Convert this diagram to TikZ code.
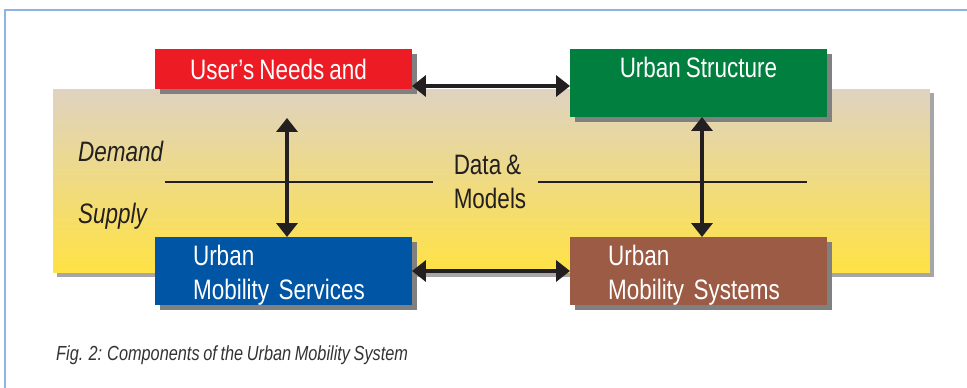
\documentclass[tikz,border=0pt]{standalone}
\usepackage{fontspec}
\setmainfont[FakeStretch=0.8, WordSpace=0.8]{Liberation Sans}
\usetikzlibrary{arrows.meta, shadows}

\definecolor{needsred}{HTML}{ED1C24}
\definecolor{structgreen}{HTML}{007F3F}
\definecolor{serviceblue}{HTML}{0055A5}
\definecolor{systembrown}{HTML}{9C5B44}
\definecolor{bandtop}{HTML}{DFD3C1}
\definecolor{bandmid}{HTML}{F6DD72}
\definecolor{bandbot}{HTML}{FFE244}
\definecolor{boxshadow}{HTML}{808080}
\definecolor{bandshadow}{HTML}{A6A6A6}
\definecolor{frameblue}{HTML}{8EB4E3}
\definecolor{inkgray}{HTML}{231F20}

\begin{document}
\begin{tikzpicture}[
    x=0.02cm,
    y=-0.02cm,
    >={Triangle[length=0.28cm, width=0.42cm]},
    every node/.style={font=\fontsize{16}{19.3}\selectfont, text=inkgray},
    box/.style={outer sep=0, minimum width=5.14cm, minimum height=1.36cm, text=white,
        drop shadow={shadow xshift=0.1cm, shadow yshift=-0.1cm, fill=boxshadow, opacity=1}},
    lbox/.style={box, align=left, text width=3.62cm, inner xsep=0.76cm, text depth=18pt},
    link/.style={<->, line width=0.08cm, draw=inkgray},
    side/.style={anchor=west, font=\fontsize{16}{19.3}\selectfont\itshape}
]
    \useasboundingbox (0, 0) rectangle (967, 388);

    % FRAME
    \draw[frameblue, line width=0.03cm] (5, 388) -- (5, 10) -- (967, 10);

    % DEMAND / SUPPLY BAND
    \node (band) at (491.5, 181) [outer sep=0, minimum width=17.54cm, minimum height=3.68cm,
        top color=bandtop, middle color=bandmid, bottom color=bandbot,
        drop shadow={shadow xshift=0.08cm, shadow yshift=-0.08cm, fill=bandshadow, opacity=1}] {};
    \node (demand) at (72, 151) [side] {Demand};
    \node (supply) at (72, 216) [side] {Supply};

    % DATA & MODELS split line
    \node (data) at (490, 182) [align=left, inner xsep=0.4cm] {Data \&\\Models};
    \coordinate (split_w) at (165, 182);
    \coordinate (split_e) at (807, 182);
    \draw[inkgray, line width=0.04cm] (split_w) -- (data.west);
    \draw[inkgray, line width=0.04cm] ([xshift=-0.18cm]data.east) -- (split_e);

    % COMPONENT BOXES
    \node (needs) at (283.5, 69) [box, fill=needsred, minimum height=0.8cm] {\hspace*{-0.2cm}User's Needs and};
    \node (structure) at (698.5, 83) [box, fill=structgreen, text height=0.41cm, text depth=0.61cm] {Urban Structure};
    \node (services) at (283.5, 271) [lbox, fill=serviceblue] {Urban\\Mobility Services};
    \node (systems) at (698.5, 271) [lbox, fill=systembrown] {Urban\\Mobility Systems};

    % LINKS
    \coordinate (needs_tip) at (287, 118);
    \draw[link] ([yshift=0.06cm]needs.south east) -- ([yshift=0.06cm]needs.south east -| structure.west);
    \draw[link] (services.east) -- (systems.west);
    \draw[link] (needs_tip) -- (needs_tip |- services.north);
    \draw[link] ([xshift=0.07cm]structure.south) -- ([xshift=0.07cm]systems.north);

    % CAPTION
    \node (caption) at (50, 355) [anchor=west, font=\fontsize{11.6}{13}\selectfont\itshape, text=black!80]
        {Fig. 2: Components of the Urban Mobility System};
\end{tikzpicture}
\end{document}
